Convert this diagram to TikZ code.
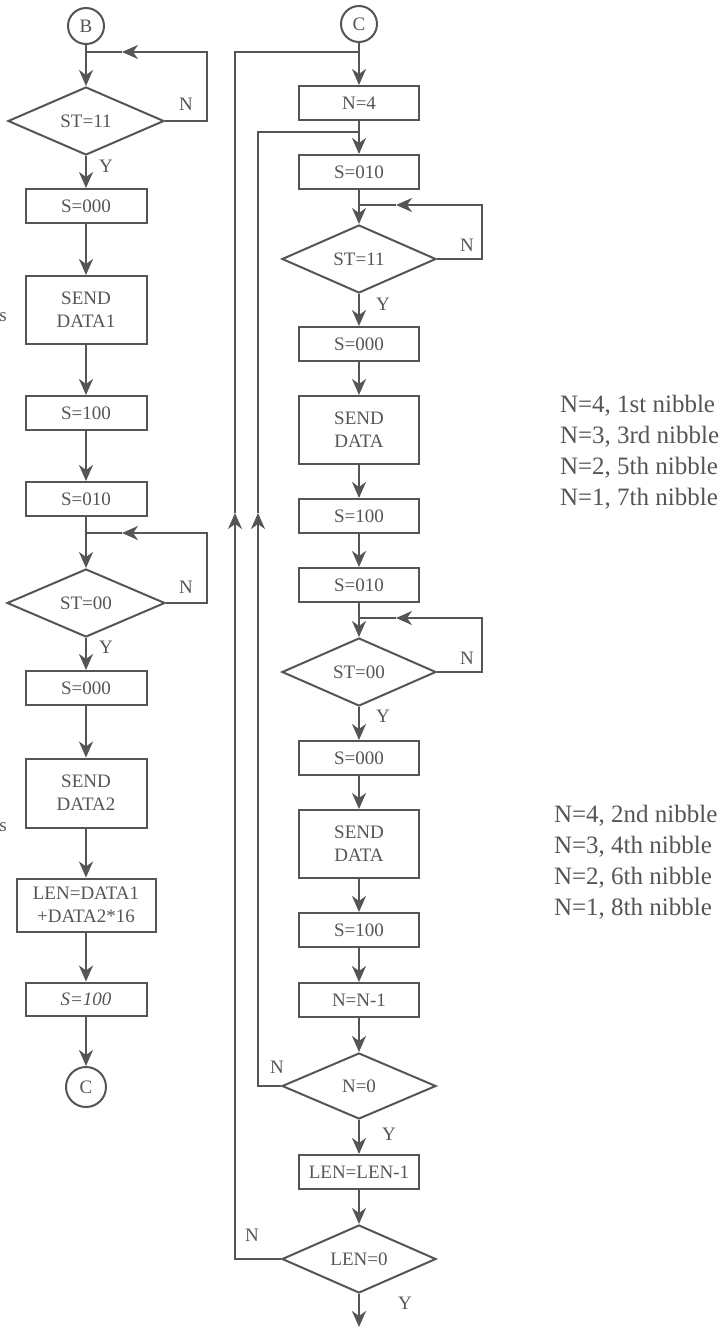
\documentclass[tikz,border=0pt]{standalone}
\usepackage{fontspec}
\setmainfont{Liberation Serif}
\usepackage{xcolor}
\usetikzlibrary{arrows.meta, shapes.geometric}

\definecolor{ink}{HTML}{555555}

\begin{document}
\begin{tikzpicture}[x=1pt, y=-1pt, color=ink, line width=2pt,
        box/.style={draw, rectangle, minimum width=121pt, minimum height=34pt, inner sep=0pt, align=center, font=\fontsize{19}{23}\selectfont},
        dec/.style={draw, diamond, aspect=2.3, minimum width=156pt, minimum height=68pt, inner sep=0pt, font=\fontsize{19}{23}\selectfont},
        conn/.style={draw, circle, minimum size=36pt, inner sep=0pt, font=\fontsize{19}{23}\selectfont},
        lbl/.style={inner sep=0pt, font=\fontsize{19}{23}\selectfont},
        note/.style={anchor=west, inner sep=0pt, align=left, font=\fontsize{25}{31}\selectfont},
        flow/.style={-{Stealth[length=16pt, width=14pt, inset=5pt]}}]
                \useasboundingbox (0,0) rectangle (725,1328);

                % left column
                \node[conn] (B) at (86,26) {B};
                \node[dec] (st11a) at (86,121) {ST=11};
                \node[box] (s000a) at (86,206) {S=000};
                \node[box, minimum height=68pt] (senda) at (86,310) {SEND\\DATA1};
                \node[box] (s100a) at (86,413) {S=100};
                \node[box] (s010a) at (86,499) {S=010};
                \node[dec, minimum width=158pt] (st00a) at (86,603) {ST=00};
                \node[box] (s000b) at (86,688) {S=000};
                \node[box, minimum height=69pt] (sendb) at (86,793) {SEND\\DATA2};
                \node[box, minimum width=139pt, minimum height=53pt] (lena) at (86,905) {LEN=DATA1\\+DATA2*16};
                \node[box, minimum height=33pt] (s100b) at (86,999) {\itshape S=100};
                \node[conn, minimum size=40pt] (Ca) at (86,1087) {C};

                \node[lbl] at (3,317) {s};
                \node[lbl] at (3,827) {s};

                \coordinate (ja) at (86,52);
                \coordinate (ka) at (207,52);
                \coordinate (ta) at (122,52);
                \coordinate (jb) at (86,533);
                \coordinate (kb) at (207,533);
                \coordinate (tb) at (122,533);

                \draw[flow] (B) -- (st11a);
                \draw[flow] (st11a) -- (s000a);
                \draw[flow] (s000a) -- (senda);
                \draw[flow] (senda) -- (s100a);
                \draw[flow] (s100a) -- (s010a);
                \draw[flow] (s010a) -- (st00a);
                \draw[flow] (st00a) -- (s000b);
                \draw[flow] (s000b) -- (sendb);
                \draw[flow] (sendb) -- (lena);
                \draw[flow] (lena) -- (s100b);
                \draw[flow] (s100b) -- (Ca);

                \draw[flow] (st11a.east) -| (ka) -- (ta);
                \draw (ta) -- (ja);
                \draw[flow] (st00a.east) -| (kb) -- (tb);
                \draw (tb) -- (jb);

                \node[lbl] at (186,104) {N};
                \node[lbl] at (106,166) {Y};
                \node[lbl] at (186,587) {N};
                \node[lbl] at (106,647) {Y};

                % right column
                \node[conn] (Cb) at (359,24) {C};
                \node[box, minimum width=120pt] (n4) at (359,103) {N=4};
                \node[box, minimum width=120pt] (s010b) at (359,172) {S=010};
                \node[dec, minimum width=154pt] (st11b) at (359,259) {ST=11};
                \node[box, minimum width=120pt] (s000c) at (359,344) {S=000};
                \node[box, minimum width=120pt, minimum height=68pt] (sendc) at (359,430) {SEND\\DATA};
                \node[box, minimum width=120pt] (s100c) at (359,516) {S=100};
                \node[box, minimum width=120pt] (s010c) at (359,585) {S=010};
                \node[dec, minimum width=154pt] (st00b) at (359,672) {ST=00};
                \node[box, minimum width=120pt] (s000d) at (359,758) {S=000};
                \node[box, minimum width=120pt, minimum height=68pt] (sendd) at (359,844) {SEND\\DATA};
                \node[box, minimum width=120pt] (s100d) at (359,930) {S=100};
                \node[box, minimum width=120pt] (ndec) at (359,1000) {N=N-1};
                \node[dec, minimum width=154pt, minimum height=66pt] (n0) at (359,1086) {N=0};
                \node[box, minimum width=120pt] (ldec) at (359,1172) {LEN=LEN-1};
                \node[dec, minimum width=154pt] (len0) at (359,1259) {LEN=0};
                \coordinate (fin) at (359,1327);

                \coordinate (jo) at (359,52);
                \coordinate (to) at (235,513);
                \coordinate (ji) at (359,132);
                \coordinate (ti) at (258,513);
                \coordinate (jc) at (359,205);
                \coordinate (kc) at (482,205);
                \coordinate (tc) at (396,205);
                \coordinate (jd) at (359,618);
                \coordinate (kd) at (482,618);
                \coordinate (td) at (396,618);

                \draw[flow] (Cb) -- (n4);
                \draw[flow] (n4) -- (s010b);
                \draw[flow] (s010b) -- (st11b);
                \draw[flow] (st11b) -- (s000c);
                \draw[flow] (s000c) -- (sendc);
                \draw[flow] (sendc) -- (s100c);
                \draw[flow] (s100c) -- (s010c);
                \draw[flow] (s010c) -- (st00b);
                \draw[flow] (st00b) -- (s000d);
                \draw[flow] (s000d) -- (sendd);
                \draw[flow] (sendd) -- (s100d);
                \draw[flow] (s100d) -- (ndec);
                \draw[flow] (ndec) -- (n0);
                \draw[flow] (n0) -- (ldec);
                \draw[flow] (ldec) -- (len0);
                \draw[flow] (len0) -- (fin);

                \draw[flow] (st11b.east) -| (kc) -- (tc);
                \draw (tc) -- (jc);
                \draw[flow] (st00b.east) -| (kd) -- (td);
                \draw (td) -- (jd);
                \draw[flow] (n0.west) -| (ti);
                \draw (ti) |- (ji);
                \draw[flow] (len0.west) -| (to);
                \draw (to) |- (jo);

                \node[lbl] at (467,245) {N};
                \node[lbl] at (383,304) {Y};
                \node[lbl] at (467,658) {N};
                \node[lbl] at (383,716) {Y};
                \node[lbl] at (277,1067) {N};
                \node[lbl] at (389,1134) {Y};
                \node[lbl] at (252,1235) {N};
                \node[lbl] at (405,1303) {Y};

                % notes
                \node[note] (nta) at (559,452) {N=4, 1st nibble\\N=3, 3rd nibble\\N=2, 5th nibble\\N=1, 7th nibble};
                \node[note] (ntb) at (553,862) {N=4, 2nd nibble\\N=3, 4th nibble\\N=2, 6th nibble\\N=1, 8th nibble};
            \end{tikzpicture}
\end{document}
